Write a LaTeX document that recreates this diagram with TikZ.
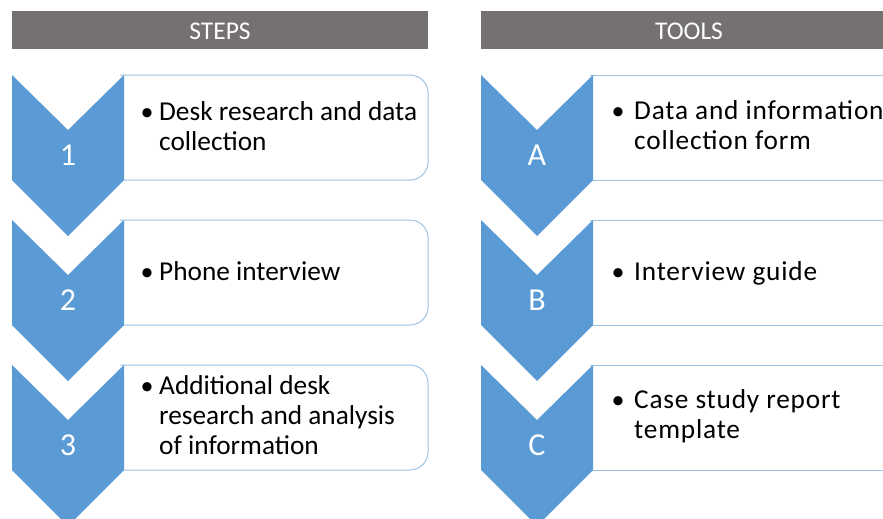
\documentclass[tikz,border=0pt]{standalone}
\usepackage{fontspec}
\setmainfont{Carlito}
\definecolor{chevblue}{HTML}{5B9BD5}
\definecolor{boxline}{HTML}{9DC3E6}
\definecolor{headgray}{HTML}{767171}
\newcommand{\itemlines}[1]{\begin{tabular}[t]{@{}l@{}}#1\end{tabular}}
\begin{document}
\begin{tikzpicture}[x=1pt,y=-1pt,
  header/.style={fill=headgray,draw=none},
  headtext/.style={text=white,font=\fontsize{25.5}{28}\selectfont,anchor=center},
  chev/.style={fill=chevblue,draw=none},
  itembox/.style={draw=boxline,line width=1pt,fill=white},
  numtext/.style={text=white,font=\fontsize{32}{36}\selectfont,anchor=center},
  bulletdot/.style={anchor=base,inner sep=0pt,font=\fontsize{26}{30}\selectfont},
  itemtext/.style={anchor=base west,inner sep=0pt,
    font=\fontsize{27.3}{30}\selectfont},
  tooltext/.style={itemtext,
    font=\fontsize{27.3}{30.5}\selectfont\addfontfeature{LetterSpace=3}}]
\useasboundingbox (0,0) rectangle (883,519);
\clip (0,0) rectangle (883,519);

% column headers
\fill[header] (12,11) rectangle (428,49);
\node[headtext] (hsteps) at (220,31) {STEPS};
\fill[header] (481,11) rectangle (900,49);
\node[headtext] (htools) at (689,31) {TOOLS};

% text boxes of the steps column (rounded on the right)
\foreach \t in {75,220,365}{
  \draw[itembox,rounded corners=18pt] (120,\t) -- (428,\t) -- (428,\t+105) -- (120,\t+105);
}
% text boxes of the tools column (run past the right edge)
\foreach \t in {75,220,365}{
  \draw[itembox] (590,\t) -- (900,\t) -- (900,\t+105) -- (590,\t+105);
}

% chevrons
\foreach \x/\t in {12/75,12/220,12/365,481/75,481/220,481/365}{
  \fill[chev] (\x,\t) -- (\x+56,\t+55) -- (\x+112,\t) -- (\x+112,\t+105)
    -- (\x+56,\t+161) -- (\x,\t+105) -- cycle;
}

% chevron labels
\node[numtext] (n1) at (68,155) {1};
\node[numtext] (n2) at (68,300) {2};
\node[numtext] (n3) at (68,445) {3};
\node[numtext] (na) at (537,155) {A};
\node[numtext] (nb) at (537,300) {B};
\node[numtext] (nc) at (537,445) {C};

% steps
\node[bulletdot] (b1) at (147,120) {•};
\node[itemtext] (t1) at (159,120) {\itemlines{Desk research and data\\collection}};
\node[bulletdot] (b2) at (147,280) {•};
\node[itemtext] (t2) at (159,280) {Phone interview};
\node[bulletdot] (b3) at (147,394) {•};
\node[itemtext] (t3) at (159,394) {\itemlines{Additional desk\\research and analysis\\of information}};

% tools
\node[bulletdot] (ba) at (618,119) {•};
\node[tooltext] (ta) at (634,119) {\itemlines{Data and information\\collection form}};
\node[bulletdot] (bb) at (618,280) {•};
\node[tooltext] (tb) at (634,280) {Interview guide};
\node[bulletdot] (bc) at (618,408) {•};
\node[tooltext] (tc) at (634,408) {\itemlines{Case study report\\template}};
\end{tikzpicture}
\end{document}
